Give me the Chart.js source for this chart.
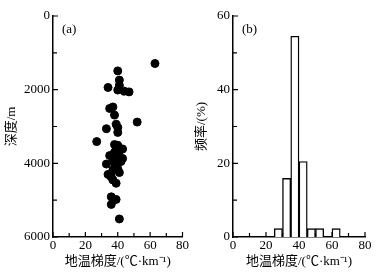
<!DOCTYPE html>
<html>
<head>
<meta charset="utf-8">
<script src="https://cdn.jsdelivr.net/npm/chart.js@4.4.1/dist/chart.umd.min.js"></script>
<style>
  body { margin: 0; background: #fff; }
  #wrap { position: relative; width: 381px; height: 273px; }
  .box { position: absolute; top: 0; height: 273px; }
</style>
</head>
<body>
<div id="wrap">
  <div class="box" style="left:0;width:190px"><canvas id="scatterChart"></canvas></div>
  <div class="box" style="left:190px;width:191px"><canvas id="histChart"></canvas></div>
</div>
<script>
// (a) geothermal gradient vs depth
const gradient = [63, 40, 41, 41, 34, 40, 44, 47, 35, 37, 38, 52, 33, 39, 40, 40,
  27, 38, 40, 43, 35, 38, 39, 41, 43, 37, 40, 33, 39, 37, 41, 34, 36, 37, 39,
  36, 39, 36, 41, 39, 40, 38, 42, 40];
const depth = [1290, 1490, 1740, 1880, 1940, 2010, 2040, 2060, 2510, 2470, 2690, 2880, 3060, 2940, 3030, 3160,
  3410, 3490, 3510, 3610, 3790, 3700, 3820, 3790, 3870, 3920, 3975, 4020, 4090, 4180, 4250, 4300, 4370, 4450, 4540,
  4910, 4980, 5115, 5510, 3650, 3880, 4000, 3950, 4150];

// (b) frequency histogram, 5 degree bins
const binCenters = [27.5, 32.5, 37.5, 42.5, 47.5, 52.5, 62.5];
const frequency = [2.27, 15.9, 54.5, 20.5, 2.27, 2.27, 2.27];

const xTicks = [0, 20, 40, 60, 80];
const depthTicks = [0, 2000, 4000, 6000];
const freqTicks = [0, 20, 40, 60];
const xTitle = '地温梯度/(℃·km⁻¹)';

Chart.defaults.font.family = 'Liberation Serif';

const numFont = { family: 'Liberation Serif', size: 13 };
const cjkFont = { family: 'Liberation Serif, Noto Sans CJK SC', size: 13 };

// draws inward tick marks and the panel letter
function innerTicks(xMinor, yMinor, label) {
  return {
    id: 'innerTicks',
    afterDraw(chart) {
      const { ctx, chartArea: a, scales: { x, y } } = chart;
      ctx.save();
      ctx.strokeStyle = '#000';
      ctx.lineWidth = 1.2;
      ctx.beginPath();
      x.ticks.forEach(t => {
        const px = x.getPixelForValue(t.value);
        ctx.moveTo(px, a.bottom); ctx.lineTo(px, a.bottom - 5);
      });
      xMinor.forEach(v => {
        const px = x.getPixelForValue(v);
        ctx.moveTo(px, a.bottom); ctx.lineTo(px, a.bottom - 4);
      });
      y.ticks.forEach(t => {
        const py = y.getPixelForValue(t.value);
        ctx.moveTo(a.left, py); ctx.lineTo(a.left + 5, py);
      });
      yMinor.forEach(v => {
        const py = y.getPixelForValue(v);
        ctx.moveTo(a.left, py); ctx.lineTo(a.left + 4, py);
      });
      ctx.stroke();
      ctx.fillStyle = '#000';
      ctx.font = "13px 'Liberation Serif', serif";
      ctx.textBaseline = 'middle';
      ctx.fillText(label, a.left + 9, a.top + 14);
      ctx.restore();
    }
  };
}

const noGrid = { display: false, drawTicks: false, tickLength: 0 };
const axisLine = { display: true, color: '#000', width: 1.5 };

function xAxis() {
  return {
    type: 'linear', min: 0, max: 80, offset: false,
    afterBuildTicks: s => { s.ticks = xTicks.map(v => ({ value: v })); },
    afterFit: s => { s.height = 36; },
    grid: noGrid,
    border: axisLine,
    ticks: { color: '#000', font: numFont, padding: 1, maxRotation: 0, callback: v => String(v) },
    title: { display: true, text: xTitle, color: '#000', font: cjkFont, padding: { top: 1 } }
  };
}

function yAxis(ticks, width, title) {
  return {
    afterBuildTicks: s => { s.ticks = ticks.map(v => ({ value: v })); },
    afterFit: s => { s.width = width; },
    grid: noGrid,
    border: axisLine,
    ticks: { color: '#000', font: numFont, padding: 3, callback: v => String(v) },
    title: { display: true, text: title, color: '#000', font: cjkFont, padding: { top: 4, bottom: 0 } }
  };
}

new Chart(document.getElementById('scatterChart'), {
  type: 'scatter',
  data: {
    datasets: [{
      data: gradient.map((g, i) => ({ x: g, y: depth[i] })),
      backgroundColor: '#000',
      borderColor: '#000',
      pointRadius: 4
    }]
  },
  options: {
    responsive: true, maintainAspectRatio: false, animation: false,
    layout: { padding: { top: 16, right: 5, left: 0, bottom: 0 } },
    plugins: { legend: { display: false }, tooltip: { enabled: false } },
    scales: {
      x: xAxis(),
      y: Object.assign(yAxis(depthTicks, 53, '深度/m'), { reverse: true, min: 0, max: 6000 })
    }
  },
  plugins: [innerTicks([10, 30, 50, 70], [1000, 3000, 5000], '(a)')]
});

new Chart(document.getElementById('histChart'), {
  type: 'bar',
  data: {
    datasets: [{
      data: binCenters.map((c, i) => ({ x: c, y: frequency[i] })),
      backgroundColor: '#fff',
      borderColor: '#000',
      borderWidth: 1.4,
      barPercentage: 1,
      categoryPercentage: 1
    }]
  },
  options: {
    responsive: true, maintainAspectRatio: false, animation: false,
    layout: { padding: { top: 16, right: 16, left: 0, bottom: 0 } },
    plugins: { legend: { display: false }, tooltip: { enabled: false } },
    scales: {
      x: xAxis(),
      y: Object.assign(yAxis(freqTicks, 43, '频率/(%)'), { min: 0, max: 60 })
    }
  },
  plugins: [innerTicks([10, 30, 50, 70], [10, 30, 50], '(b)')]
});
</script>
</body>
</html>
